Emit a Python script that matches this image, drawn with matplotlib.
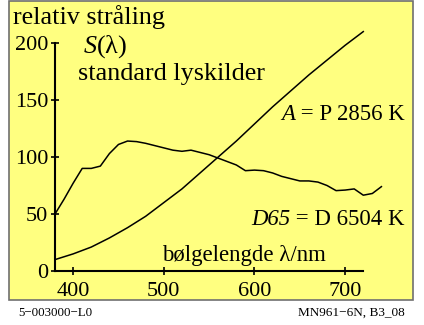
import matplotlib.pyplot as plt
from matplotlib.patches import Rectangle

font = 'Liberation Serif'
plt.rcParams['font.family'] = font
plt.rcParams['mathtext.fontset'] = 'custom'
plt.rcParams['mathtext.rm'] = font
plt.rcParams['mathtext.it'] = font + ':italic'

# CIE illuminant A
wl_a = [380, 400, 420, 440, 460, 480, 500, 520, 540, 560, 580, 600,
        620, 640, 660, 680, 700, 720]
s_a = [10, 15, 21, 29, 38, 48, 60, 72, 86, 100, 114, 129,
       144, 158, 172, 185, 198, 210]

# CIE illuminant D65
wl_d65 = [380, 390, 400, 410, 420, 430, 440, 450, 460, 470, 480, 490,
          500, 510, 520, 530, 540, 550, 560, 570, 580, 590, 600, 610,
          620, 630, 640, 650, 660, 670, 680, 690, 700, 710, 720, 730, 740]
s_d65 = [50, 63, 77, 90, 90, 92, 103, 111, 114, 113.5, 112, 110,
         108, 106, 105, 106, 104, 102, 99, 96, 93, 88, 88.5, 88,
         86, 83, 81, 79, 79, 78, 75, 70.5, 71, 72, 66.5, 68, 74]

xticks = [400, 500, 600, 700]
yticks = [0, 50, 100, 150, 200]

fig = plt.figure(figsize=(4.24, 3.25), dpi=100)
W, H = 424, 325

# yellow panel with grey frame (behind the axes)
fig.patches.append(Rectangle((9 / W, 1 - 300 / H), 404 / W, 299.5 / H,
                             transform=fig.transFigure, facecolor='#ffff80',
                             edgecolor='#707070', linewidth=1.2, zorder=-5))

ax = fig.add_axes([55 / W, 54 / H, 380 * 0.9067 / W, 230 * 1.14 / H])
ax.patch.set_alpha(0)
ax.set_xlim(380, 760)
ax.set_ylim(0, 230)

ax.plot(wl_a, s_a, color='black', linewidth=1.1)
ax.plot(wl_d65, s_d65, color='black', linewidth=1.1)

for side in ['top', 'right']:
    ax.spines[side].set_visible(False)
ax.spines['left'].set_bounds(0, 200)
ax.spines['bottom'].set_bounds(380, 720)
ax.spines['left'].set_linewidth(1.5)
ax.spines['bottom'].set_linewidth(1.5)

ax.set_xticks(xticks)
ax.set_yticks(yticks)
ax.tick_params(direction='inout', length=6, width=1.2, labelsize=16)
ax.tick_params(axis='x', pad=5)
ax.tick_params(axis='y', pad=2)

fs = 18.8
fig.text(13 / W, 1 - 24 / H, 'relativ stråling', fontsize=fs,
         va='baseline')
fig.text(83 / W, 1 - 53 / H, '$S$(λ)', fontsize=fs, va='baseline')
fig.text(78 / W, 1 - 80 / H, 'standard lyskilder', fontsize=fs,
         va='baseline')
fig.text(162 / W, 1 - 261 / H, 'bølgelengde λ/nm', fontsize=16.4,
         va='baseline')

# labels with an italic name on the left, right-aligned at x=405 px
renderer = fig.canvas.get_renderer()
for name, rest, ybase in [('A', ' = P 2856 K', 120),
                          ('D65', ' = D 6504 K', 225)]:
    t = fig.text(405 / W, 1 - ybase / H, rest, fontsize=16.4,
                 va='baseline', ha='right')
    x0 = t.get_window_extent(renderer).x0
    fig.text(x0 / W, 1 - ybase / H, name, fontsize=16.4, style='italic',
             va='baseline', ha='right')

fig.text(18 / W, 1 - 316 / H, '5−003000−L0', fontsize=9.3, va='baseline')
fig.text(405 / W, 1 - 316 / H, 'MN961−6N, B3_08', fontsize=9.5,
         va='baseline', ha='right')

plt.savefig('out.png', dpi=100)
